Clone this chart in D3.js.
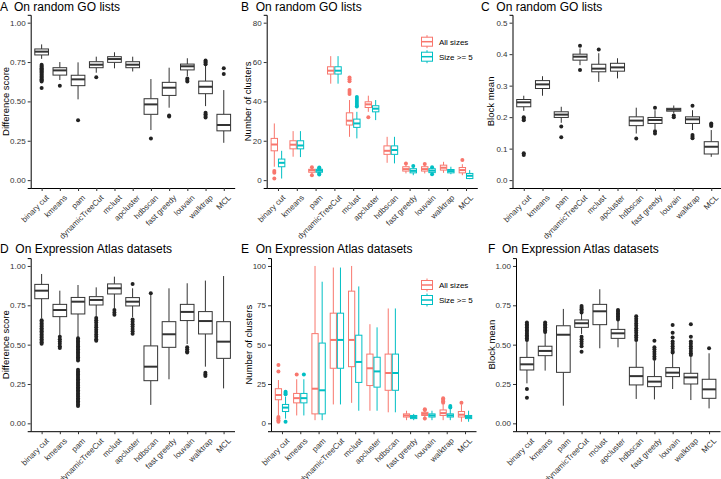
<!DOCTYPE html>
<html><head><meta charset="utf-8">
<script src="https://cdn.jsdelivr.net/npm/d3@7"></script>
<style>body{margin:0;background:#fff} text{font-family:"Liberation Sans",Arial,Helvetica,sans-serif}</style>
</head><body><svg id="c" width="721" height="479"></svg>
<script>
const categories = ["binary cut","kmeans","pam","dynamicTreeCut","mclust","apcluster","hdbscan","fast greedy","louvain","walktrap","MCL"];
const seriesNames = ["All sizes","Size >= 5"];
const seriesColors = ["#F8766D","#00BFC4"];

// each stats row: [lower whisker, q1, median, q3, upper whisker]
const goDiffStats = [
  [0.77,0.795,0.816,0.833,0.862],[0.636,0.667,0.697,0.714,0.75],[0.513,0.60,0.64,0.666,0.748],
  [0.682,0.714,0.733,0.752,0.784],[0.71,0.748,0.769,0.784,0.812],[0.69,0.714,0.733,0.752,0.784],
  [0.318,0.418,0.481,0.517,0.642],[0.46,0.538,0.587,0.621,0.714],[0.661,0.70,0.723,0.737,0.774],
  [0.47,0.549,0.593,0.629,0.73],[0.237,0.313,0.35,0.418,0.572]];
const goDiffOutliers = [
  [0.732,0.725,0.718,0.711,0.704,0.697,0.69,0.683,0.676,0.669,0.662,0.655,0.648,0.641,0.634,0.627,0.585],
  [0.60],[0.381],[0.653],[],[],[0.265],[0.41,0.404],[0.646,0.636,0.627],
  [0.76,0.752,0.745,0.736,0.428,0.418,0.408,0.398],[0.71,0.674]];

const goClustAllStats = [
  [6.8,14.9,18.1,21.2,28.8],[11.9,15.9,18,20,24.9],[3,4,5,5.5,6],[49,53.9,55.6,57.6,63],
  [22,28,30.2,34.2,40.7],[34.7,36.9,38.5,39.8,42.9],[8.8,13.1,14.9,17.4,22],
  [3.4,4.6,5.6,6.8,8],[3.4,4.6,5.6,6.8,7.5],[3.7,5.1,6.3,7.6,9.3],[2.5,3.7,5.1,6.4,8.1]];
const goClustAllOutliers = [
  [4.7,3.7,0.8],[],[6.5,2.5],[],[52.2,51.2,50.2,45.8,44.8,43.8],[31.9],[],[8.5],[8.2],[],[10.2]];
const goClustBigStats = [
  [0.8,6.8,8.8,10.7,14.9],[11.7,15.9,17.6,20,24.9],[3,4,4.8,5.5,6],[49,53.9,55.6,57.6,63],
  [21.2,26.8,28.8,31,34.7],[30.5,34.7,36.3,37.8,40.7],[8.5,13.1,15.3,17.4,22],
  [2.5,3.7,4.7,5.8,6.5],[2.8,3.8,4.8,5.8,6.2],[3,3.7,4.6,5.4,6.8],[0.5,0.8,2.2,3.4,5.1]];
const goClustBigOutliers = [
  [],[],[6.4,6,3.2,2.8],[],[42.2,41.2,40.2,39.2,38.2,37.4],[],[],[7.2],[6.6,3],[],[]];

const goBlockStats = [
  [0.22,0.233,0.247,0.256,0.268],[0.268,0.291,0.304,0.316,0.33],[0.182,0.199,0.208,0.217,0.233],
  [0.365,0.381,0.392,0.40,0.418],[0.312,0.344,0.354,0.368,0.403],[0.323,0.346,0.358,0.371,0.387],
  [0.148,0.173,0.189,0.201,0.23],[0.161,0.18,0.191,0.199,0.222],[0.212,0.219,0.224,0.228,0.237],
  [0.159,0.18,0.193,0.201,0.222],[0.074,0.083,0.106,0.122,0.159]];
const goBlockOutliers = [
  [0.2,0.195,0.19,0.085,0.08],[],[0.17,0.136],[0.427,0.35],[0.415],[],[0.132],
  [0.23,0.155,0.148],[0.205,0.2],[0.236,0.143,0.138,0.133],[0.18,0.176,0.172]];

const eaDiffStats = [
  [0.667,0.792,0.843,0.883,0.949],[0.561,0.678,0.72,0.756,0.843],[0.547,0.695,0.773,0.80,0.879],
  [0.678,0.752,0.784,0.805,0.864],[0.731,0.822,0.858,0.886,0.932],[0.674,0.746,0.773,0.799,0.858],
  [0.117,0.271,0.36,0.492,0.815],[0.28,0.483,0.566,0.646,0.858],[0.504,0.653,0.708,0.756,0.89],
  [0.36,0.568,0.65,0.71,0.907],[0.222,0.413,0.519,0.646,0.936]];
const eaDiffOutliers = [
  [0.655,0.645,0.635,0.625,0.615,0.605,0.595,0.585,0.575,0.565,0.555,0.545,0.535,0.525,0.515,0.505],
  [0.55,0.535,0.52,0.505,0.49,0.478],
  [0.54,0.53,0.52,0.51,0.50,0.49,0.48,0.47,0.46,0.45,0.44,0.43,0.42,0.41,0.40,
   0.34,0.33,0.32,0.31,0.30,0.29,0.28,0.27,0.26,0.25,0.24,0.23,0.22,0.21,0.20,0.19,0.18,0.17,0.16,0.15,0.14,0.13,0.12,0.11],
  [0.67,0.655,0.64,0.625,0.61,0.595,0.58,0.565,0.55,0.535,0.525],
  [0.72,0.705,0.69],
  [0.885,0.66,0.645,0.63,0.615,0.6,0.585,0.57],
  [0.826],[],[0.483,0.47,0.458,0.45],[0.322,0.31,0.3],[]];

const eaClustAllStats = [
  [5,15,18,22,27.5],[5,13,16,19,28],[2,6,22,57,100],[12,35,53,70,99],[13,36,53,84,100],
  [8,24,35,44,63],[7,21,32,44,73],[2,4,5,6,8],[2,5,6,7,8],[2,5,6.5,8.5,12],[1,4,5.5,7.5,12]];
const eaClustAllOutliers = [
  [37,33,4,3,2,1],[31],[],[],[],[],[],[],[9,8.5,3],[16,15,14,13],[13]];
const eaClustBigStats = [
  [3,7.5,10,12,17],[5,13,16,19,28],[2,6,21,51,90],[12,35,53,70,99],[8,26,39,56,87],
  [8,23,33,42,61],[7,21,32,44,73],[2,3,4,5,6],[2,4,5,6,8],[2,4,5,6,9],[1,3,4,5,8]];
const eaClustBigOutliers = [
  [20,19.2,18.5,1],[31],[],[],[],[],[],[],[],[11,10],[]];

const eaBlockStats = [
  [0.254,0.339,0.375,0.419,0.519],[0.335,0.43,0.46,0.49,0.58],[0.112,0.324,0.563,0.62,0.727],
  [0.568,0.61,0.636,0.657,0.70],[0.477,0.627,0.712,0.756,0.852],[0.483,0.54,0.572,0.597,0.65],
  [0.155,0.244,0.30,0.356,0.519],[0.152,0.233,0.265,0.297,0.40],[0.218,0.297,0.322,0.354,0.445],
  [0.148,0.25,0.292,0.318,0.424],[0.095,0.159,0.216,0.28,0.445]];
const eaBlockOutliers = [
  [0.64,0.63,0.62,0.61,0.60,0.59,0.58,0.57,0.56,0.55,0.54,0.53,0.218,0.163],
  [0.64,0.63,0.62,0.61,0.60,0.59,0.58],
  [],
  [0.746,0.735,0.725,0.715,0.705,0.55,0.535,0.52,0.505,0.49,0.455],
  [],
  [0.72,0.71,0.70,0.69,0.68,0.67,0.66],
  [0.68,0.665,0.65,0.635,0.62,0.605,0.59,0.575,0.56,0.545,0.53],
  [0.525,0.483,0.47,0.455,0.44,0.425,0.41],
  [0.625,0.575,0.545,0.52,0.505,0.49,0.475,0.46,0.45],
  [0.63,0.55,0.52,0.505,0.49,0.475,0.46,0.445,0.434],
  [0.477]];

const diffTicks = [0,0.25,0.5,0.75,1.0];
const clustTicksGO = [0,20,40,60,80];
const blockTicksGO = [0,0.1,0.2,0.3,0.4,0.5];
const clustTicksEA = [0,25,50,75,100];

const panels = [
  {title:"A  On random GO lists", tx:0, ty:11, ylab:"Difference score", ylx:9, left:30.7, right:234.7, top:14.8, bottom:188,
   domain:[-0.05,1.05], ticks:diffTicks, fmt:".2f", series:[{stats:goDiffStats, out:goDiffOutliers, color:null}]},
  {title:"B  On random GO lists", tx:241, ty:11, ylab:"Number of clusters", ylx:251, left:266.7, right:477.3, top:14.8, bottom:188,
   domain:[-4,84], ticks:clustTicksGO, fmt:"d", legend:{x:427, y:41.7},
   series:[{stats:goClustAllStats, out:goClustAllOutliers, color:seriesColors[0]},{stats:goClustBigStats, out:goClustBigOutliers, color:seriesColors[1]}]},
  {title:"C  On random GO lists", tx:481, ty:11, ylab:"Block mean", ylx:494, left:512.5, right:722.5, top:14.8, bottom:188,
   domain:[-0.025,0.525], ticks:blockTicksGO, fmt:".1f", series:[{stats:goBlockStats, out:goBlockOutliers, color:null}]},
  {title:"D  On Expression Atlas datasets", tx:0, ty:253, ylab:"Difference score", ylx:9, left:30.7, right:234.5, top:258.1, bottom:431.2,
   domain:[-0.05,1.05], ticks:diffTicks, fmt:".2f", series:[{stats:eaDiffStats, out:eaDiffOutliers, color:null}]},
  {title:"E  On Expression Atlas datasets", tx:241, ty:253, ylab:"Number of clusters", ylx:252, left:271, right:476, top:258.1, bottom:431.2,
   domain:[-5,105], ticks:clustTicksEA, fmt:"d", legend:{x:427, y:285},
   series:[{stats:eaClustAllStats, out:eaClustAllOutliers, color:seriesColors[0]},{stats:eaClustBigStats, out:eaClustBigOutliers, color:seriesColors[1]}]},
  {title:"F  On Expression Atlas datasets", tx:488, ty:253, ylab:"Block mean", ylx:495, left:516, right:720, top:258.1, bottom:431.2,
   domain:[-0.05,1.05], ticks:diffTicks, fmt:".2f", series:[{stats:eaBlockStats, out:eaBlockOutliers, color:null}]}
];

const svg = d3.select("#c");
const grey = "#333333";

panels.forEach(p => {
  const g = svg.append("g");
  const x = d3.scaleLinear().domain([-0.6, categories.length - 0.4]).range([p.left, p.right]);
  const y = d3.scaleLinear().domain(p.domain).range([p.bottom, p.top]);
  const step = x(1) - x(0);
  const nS = p.series.length;

  // title
  g.append("text").attr("x", p.tx).attr("y", p.ty).attr("font-size", 12).attr("fill", "#000")
    .style("white-space", "pre").text(p.title);

  // y axis
  const yAxis = g.append("g").attr("transform", `translate(${p.left},0)`)
    .call(d3.axisLeft(y).tickValues(p.ticks).tickFormat(d3.format(p.fmt)).tickSize(3).tickPadding(2));
  yAxis.select(".domain").attr("stroke", "#000").attr("stroke-width", 1);
  yAxis.selectAll(".tick line").attr("stroke", "#333");
  yAxis.selectAll(".tick text").attr("font-size", 8).attr("fill", "#333").attr("font-family", '"Liberation Sans",Arial,sans-serif');

  // x axis
  const xAxis = g.append("g").attr("transform", `translate(0,${p.bottom})`)
    .call(d3.axisBottom(x).tickValues(d3.range(categories.length)).tickFormat(i => categories[i]).tickSize(3).tickSizeOuter(0));
  xAxis.select(".domain").attr("stroke", "#000").attr("stroke-width", 1);
  xAxis.selectAll(".tick line").attr("stroke", "#333");
  xAxis.selectAll(".tick text").attr("font-size", 8).attr("fill", "#333")
    .attr("font-family", '"Liberation Sans",Arial,sans-serif')
    .attr("text-anchor", "end").attr("y", 0).attr("dy", "0.75em")
    .attr("transform", "translate(3,6) rotate(-45)");

  // y label
  g.append("text").attr("transform", `translate(${p.ylx},${(p.top + p.bottom) / 2}) rotate(-90)`)
    .attr("text-anchor", "middle").attr("font-size", 9.5).attr("fill", "#000").text(p.ylab);

  // boxes
  p.series.forEach((s, si) => {
    const off = nS === 1 ? 0 : (si === 0 ? -0.195 : 0.195);
    const bw = (nS === 1 ? 0.75 : 0.34) * step;
    const col = s.color || grey;
    categories.forEach((c, i) => {
      const st = s.stats[i];
      const cx = x(i + off);
      const bg = g.append("g");
      bg.append("line").attr("x1", cx).attr("x2", cx).attr("y1", y(st[0])).attr("y2", y(st[1]))
        .attr("stroke", col).attr("stroke-width", 1);
      bg.append("line").attr("x1", cx).attr("x2", cx).attr("y1", y(st[3])).attr("y2", y(st[4]))
        .attr("stroke", col).attr("stroke-width", 1);
      bg.append("rect").attr("x", cx - bw / 2).attr("width", bw)
        .attr("y", y(st[3])).attr("height", Math.max(0.5, y(st[1]) - y(st[3])))
        .attr("fill", "#fff").attr("stroke", col).attr("stroke-width", 1);
      bg.append("line").attr("x1", cx - bw / 2).attr("x2", cx + bw / 2).attr("y1", y(st[2])).attr("y2", y(st[2]))
        .attr("stroke", col).attr("stroke-width", 2);
      bg.selectAll("circle").data(s.out[i]).join("circle")
        .attr("cx", cx).attr("cy", d => y(d)).attr("r", 2)
        .attr("fill", s.color || "#222");
    });
  });

  // legend
  if (p.legend) {
    p.series.forEach((s, si) => {
      const ly = p.legend.y + si * 15;
      const lx = p.legend.x;
      const lg = g.append("g");
      lg.append("line").attr("x1", lx).attr("x2", lx).attr("y1", ly - 6.5).attr("y2", ly + 6.5)
        .attr("stroke", s.color).attr("stroke-width", 1);
      lg.append("rect").attr("x", lx - 5.5).attr("y", ly - 4.5).attr("width", 11).attr("height", 9)
        .attr("fill", "#fff").attr("stroke", s.color).attr("stroke-width", 1);
      lg.append("line").attr("x1", lx - 5.5).attr("x2", lx + 5.5).attr("y1", ly).attr("y2", ly)
        .attr("stroke", s.color).attr("stroke-width", 1.5);
      lg.append("text").attr("x", lx + 12).attr("y", ly).attr("dy", "0.35em")
        .attr("font-size", 8).attr("fill", "#000").text(seriesNames[si]);
    });
  }
});
</script>
</body></html>
